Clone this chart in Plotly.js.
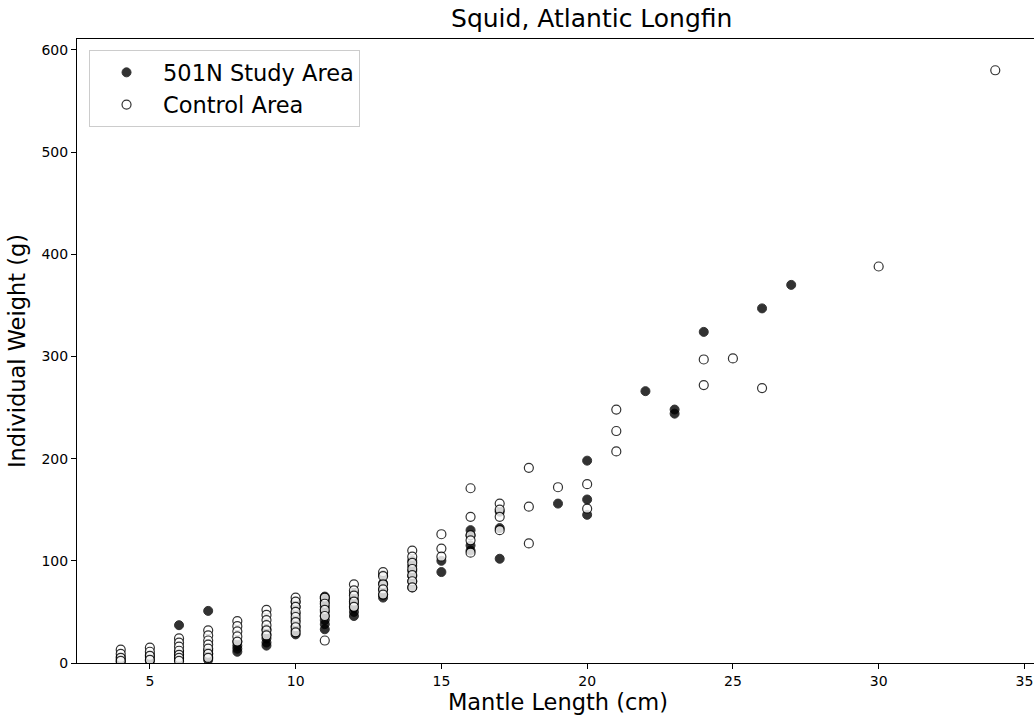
<!DOCTYPE html>
<html>
<head>
<meta charset="utf-8">
<script src="https://cdn.plot.ly/plotly-3.0.1.min.js"></script>
<style>
  html, body { margin: 0; padding: 0; overflow: hidden; background: #fff; }
  #chart { width: 1041px; height: 719px; }
</style>
</head>
<body>
<div id="chart"></div>
<script>
// Study area (filled markers)
const studyLength = [
  4, 4, 4,
  5, 5, 5,
  6, 6, 6, 6, 6,
  7, 7, 7, 7, 7,
  8, 8, 8, 8,
  9, 9, 9, 9, 9,
  10, 10, 10, 10, 10, 10, 10,
  11, 11, 11, 11, 11, 11, 11, 11, 11,
  12, 12, 12, 12, 12, 12,
  13, 13, 13, 13, 13,
  14, 14, 14, 14, 14, 14,
  15, 15,
  16, 16, 16, 16,
  17, 17, 17,
  19,
  20, 20, 20,
  22,
  23, 23,
  24,
  26,
  27
];
const studyWeight = [
  1, 3, 6,
  2, 5, 8,
  37, 3, 5, 8, 11,
  51, 3, 6, 9, 12,
  11, 14, 17, 21,
  17, 20, 24, 28, 33,
  28, 32, 36, 42, 48, 55, 60,
  33, 38, 42, 46, 50, 55, 60, 63, 65,
  46, 50, 54, 58, 62, 68,
  64, 67, 72, 78, 86,
  74, 80, 85, 90, 95, 100,
  89, 100,
  110, 115, 125, 130,
  102, 132, 148,
  156,
  145, 160, 198,
  266,
  244, 248,
  324,
  347,
  370
];

// Control area (open markers)
const controlLength = [
  4, 4, 4, 4,
  5, 5, 5, 5,
  6, 6, 6, 6, 6, 6, 6,
  7, 7, 7, 7, 7, 7, 7,
  8, 8, 8, 8, 8,
  9, 9, 9, 9, 9, 9,
  10, 10, 10, 10, 10, 10, 10, 10,
  11, 11, 11, 11, 11,
  12, 12, 12, 12, 12,
  13, 13, 13, 13, 13,
  14, 14, 14, 14, 14, 14, 14,
  15, 15, 15,
  16, 16, 16, 16, 16,
  17, 17, 17, 17,
  18, 18, 18,
  19,
  20, 20,
  21, 21, 21,
  24, 24,
  25,
  26,
  30,
  34
];
const controlWeight = [
  13, 9, 5, 2,
  15, 11, 7, 3,
  24, 20, 16, 12, 8, 5, 2,
  32, 27, 22, 18, 14, 9, 5,
  41, 36, 31, 26, 21,
  52, 47, 42, 37, 32, 27,
  64, 60, 55, 50, 45, 40, 35, 30,
  64, 58, 52, 46, 22,
  77, 71, 66, 60, 55,
  89, 85, 77, 72, 67,
  110, 104, 98, 92, 86, 80, 74,
  126, 112, 104,
  171, 143, 125, 120, 108,
  156, 150, 143, 130,
  191, 153, 117,
  172,
  175, 151,
  248, 227, 207,
  297, 272,
  298,
  269,
  388,
  580
];

const xTicks = [5, 10, 15, 20, 25, 30, 35];
const yTicks = [0, 100, 200, 300, 400, 500, 600];

const FONT = "DejaVu Sans, sans-serif";

const traces = [
  {
    type: "scatter", mode: "markers", name: "501N Study Area",
    x: studyLength, y: studyWeight,
    marker: { size: 9, color: "#000", opacity: 0.8, line: { color: "#000", width: 1 } },
    hoverinfo: "x+y"
  },
  {
    type: "scatter", mode: "markers", name: "Control Area",
    x: controlLength, y: controlWeight,
    marker: { size: 9, color: "#fff", opacity: 0.8, line: { color: "#000", width: 1.2 } },
    hoverinfo: "x+y"
  }
];

const layout = {
  width: 1041, height: 719,
  margin: { l: 77, r: 2, t: 39, b: 56 },
  paper_bgcolor: "#fff", plot_bgcolor: "#fff",
  font: { family: FONT, color: "#000", size: 14 },
  title: {
    text: "Squid, Atlantic Longfin",
    font: { family: FONT, size: 25, color: "#000" },
    x: 557 / 1041, xanchor: "center", xref: "paper",
    y: 1 - 18 / 719, yanchor: "middle", yref: "container"
  },
  xaxis: {
    range: [2.5, 35.5],
    tickvals: xTicks, ticktext: xTicks.map(String),
    ticks: "outside", ticklen: 5, tickwidth: 1, tickcolor: "#000",
    tickfont: { family: FONT, size: 14, color: "#000" },
    showgrid: false, zeroline: false,
    showline: true, linecolor: "#000", linewidth: 1, mirror: true,
    automargin: false,
    title: { text: "Mantle Length (cm)", font: { family: FONT, size: 22.5, color: "#000" }, standoff: 6 }
  },
  yaxis: {
    range: [0, 610.6],
    tickvals: yTicks, ticktext: yTicks.map(String),
    ticks: "outside", ticklen: 5, tickwidth: 1, tickcolor: "#000",
    tickfont: { family: FONT, size: 14, color: "#000" },
    showgrid: false, zeroline: false,
    showline: true, linecolor: "#000", linewidth: 1,
    automargin: false,
    title: { text: "Individual Weight (g)", font: { family: FONT, size: 22.5, color: "#000" }, standoff: 9 }
  },
  legend: {
    x: 0.0125, y: 0.982, xanchor: "left", yanchor: "top",
    bgcolor: "rgba(255,255,255,0.8)", bordercolor: "#cccccc", borderwidth: 1,
    font: { family: FONT, size: 22.5, color: "#000" },
    itemwidth: 63
  },
  showlegend: true
};

Plotly.newPlot("chart", traces, layout, { displayModeBar: false, staticPlot: true });
</script>
</body>
</html>
